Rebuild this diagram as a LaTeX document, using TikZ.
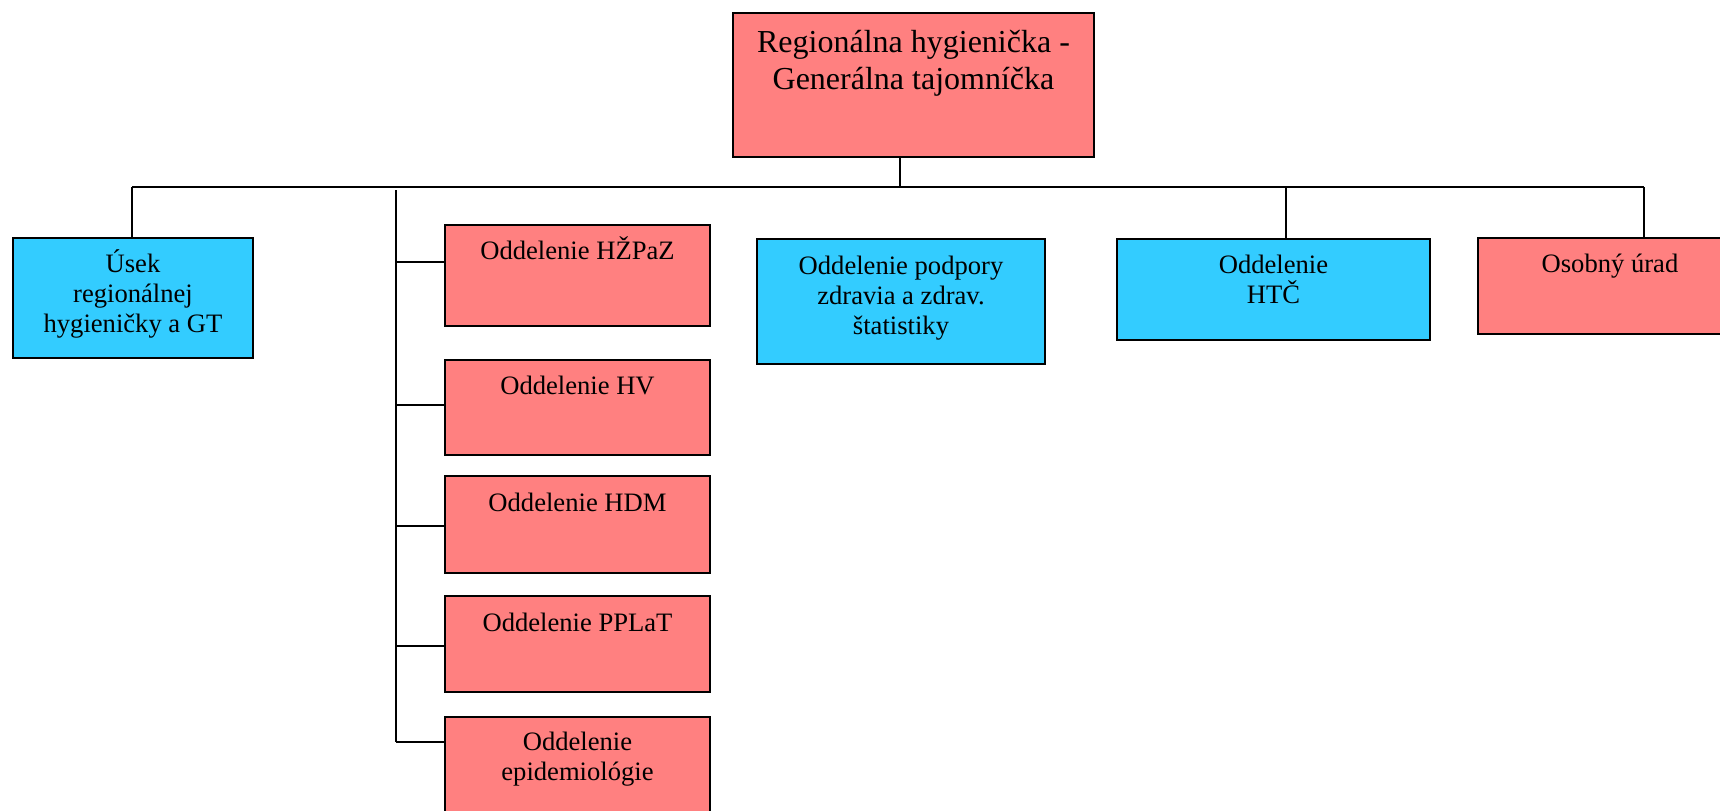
\documentclass[tikz,border=0pt]{standalone}
\usepackage{fontspec}
\setmainfont{Liberation Serif}
\usepackage{tikz}
\usetikzlibrary{positioning, calc}

\definecolor{hyred}{RGB}{255,128,128}
\definecolor{hyblue}{RGB}{51,204,255}

\tikzset{
	unitbox/.style={draw=black, line width=1pt, inner sep=0pt, anchor=north west},
	redunit/.style={unitbox, fill=hyred},
	blueunit/.style={unitbox, fill=hyblue},
	boxtext/.style={anchor=base, align=center, inner sep=0pt, font=\fontsize{13.3}{15}\selectfont},
	headtext/.style={boxtext, font=\fontsize{16}{18.5}\selectfont},
	link/.style={line width=0.85pt}
}

\begin{document}
\begin{tikzpicture}[x=0.5pt, y=-0.5pt]
		
		\clip (0,0) rectangle (1720,810);
		
		% head
		\node[redunit, minimum width=180.5pt, minimum height=72pt] (top) at (732,12) {};
		\node[headtext] (top-t) at ([yshift=-38.5pt]top.north) {Regionálna hygienička -\\Generálna tajomníčka};
		
		% first row
		\node[blueunit, minimum width=120pt, minimum height=60pt] (usek) at (12,237) {};
		\node[blueunit, minimum width=144pt, minimum height=62.5pt] (podpory) at (756,238) {};
		\node[blueunit, minimum width=156.5pt, minimum height=50.5pt] (htc) at (1116,238) {};
		\node[redunit, minimum width=132pt, minimum height=48pt] (osob) at (1477,237) {};
		
		% oddelenia under one trunk
		\node[redunit, minimum width=132.5pt, minimum height=50.5pt] (hzpaz) at (444,224) {};
		\node[redunit, minimum width=132.5pt, minimum height=47.5pt] (hv) at (444,359) {};
		\node[redunit, minimum width=132.5pt, minimum height=48.5pt] (hdm) at (444,475) {};
		\node[redunit, minimum width=132.5pt, minimum height=48pt] (pplat) at (444,595) {};
		\node[redunit, minimum width=132.5pt, minimum height=55pt] (epid) at (444,716) {};
		
		% base = last line
		\node[boxtext] (usek-t) at ([yshift=-47.5pt]usek.north) {Úsek\\regionálnej\\hygieničky a GT};
		\node[boxtext] (podpory-t) at ([yshift=-48pt]podpory.north) {Oddelenie podpory\\zdravia a zdrav.\\štatistiky};
		\node[boxtext] (htc-t) at ([yshift=-32.5pt]htc.north) {Oddelenie\\HTČ};
		\node[boxtext] (osob-t) at ([yshift=-17.5pt]osob.north) {Osobný úrad};
		\node[boxtext] (hzpaz-t) at ([yshift=-17.5pt]hzpaz.north) {Oddelenie HŽPaZ};
		\node[boxtext] (hv-t) at ([yshift=-17.5pt]hv.north) {Oddelenie HV};
		\node[boxtext] (hdm-t) at ([yshift=-18pt]hdm.north) {Oddelenie HDM};
		\node[boxtext] (pplat-t) at ([yshift=-18pt]pplat.north) {Oddelenie PPLaT};
		\node[boxtext] (epid-t) at ([yshift=-32pt]epid.north) {Oddelenie\\epidemiológie};
		
		% bus
		\coordinate (hub) at (900,187);
		\coordinate (d-usek) at (132,187);
		\coordinate (d-htc) at (1286,187);
		\coordinate (d-osob) at (1644,187);
		\coordinate (grp) at (396,190);
		
		\draw[link] (top.south -| hub) -- (hub);
		\draw[link] (d-usek) -- (d-osob);
		
		\foreach \d/\n in {d-usek/usek, d-htc/htc, d-osob/osob}
		\draw[link] (\d) -- (\d |- \n.north);
		
		\draw[link] (grp) -- (grp |- 0,742);
		\foreach \n/\y in {hzpaz/262, hv/405, hdm/526, pplat/646, epid/742}
		\draw[link] (grp |- 0,\y) -- (\n.west |- 0,\y);
		
\end{tikzpicture}
\end{document}
